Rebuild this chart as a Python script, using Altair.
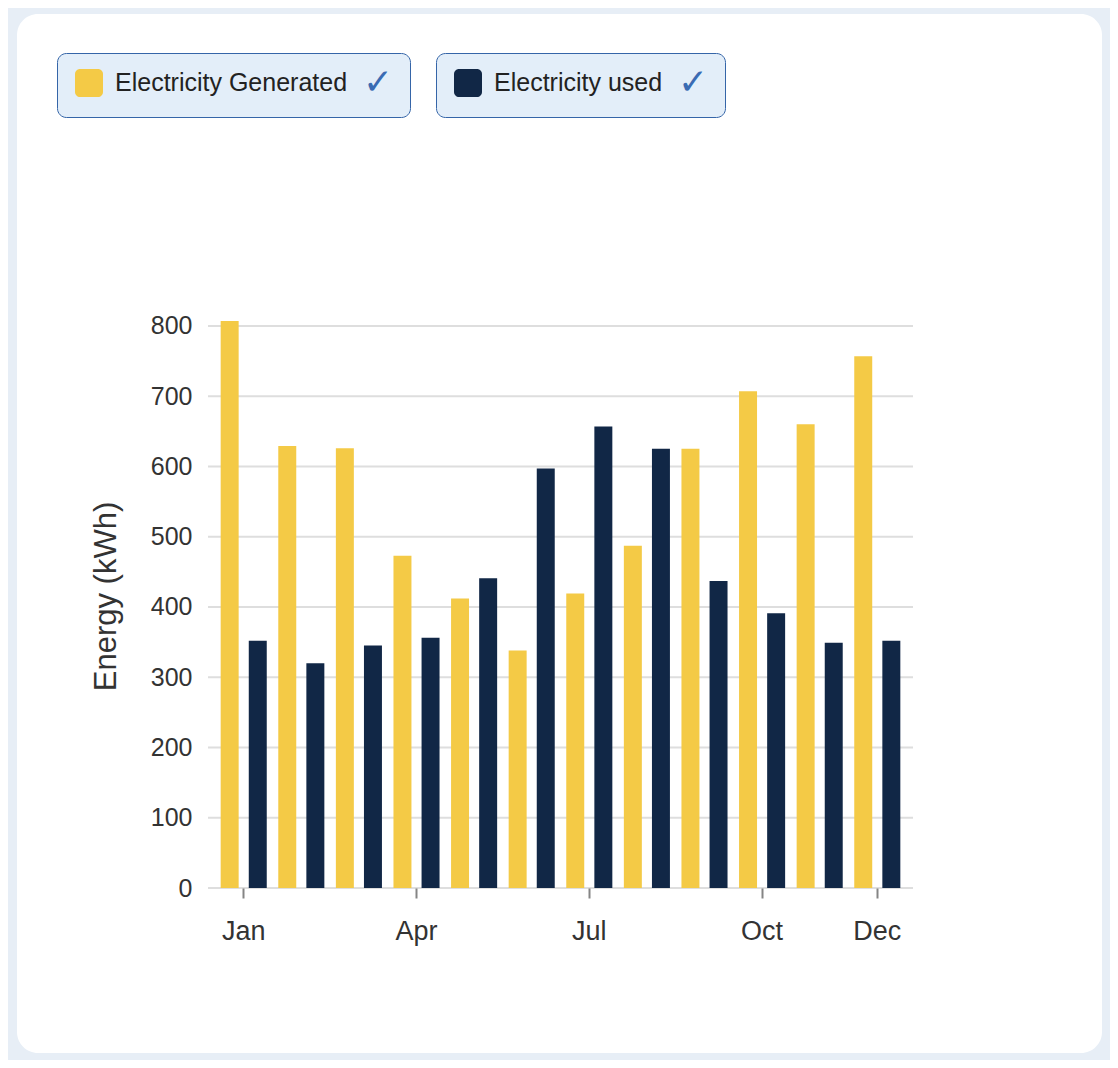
import altair as alt
import pandas as pd

months = ["Jan", "Feb", "Mar", "Apr", "May", "Jun", "Jul", "Aug", "Sep", "Oct", "Nov", "Dec"]
generated = [807, 629, 626, 473, 412, 338, 419, 487, 625, 707, 660, 757]
used = [352, 320, 345, 356, 441, 597, 657, 625, 437, 391, 349, 352]
series_names = ["Electricity Generated", "Electricity used"]
series_colors = ["#f4ca46", "#112746"]
tick_months = ["Jan", "Apr", "Jul", "Oct", "Dec"]
y_ticks = [0, 100, 200, 300, 400, 500, 600, 700, 800]

rows = []
for m, g, u in zip(months, generated, used):
    rows.append({"month": m, "series": series_names[0], "value": g})
    rows.append({"month": m, "series": series_names[1], "value": u})
df = pd.DataFrame(rows)
grid_df = pd.DataFrame({"value": y_ticks})
card_df = pd.DataFrame({"card": [0]})

FONT = "Liberation Sans"
W, H = 705, 567

x_enc = alt.X(
    "month:O",
    sort=months,
    scale=alt.Scale(paddingInner=0.2, paddingOuter=0.22),
    axis=alt.Axis(
        values=tick_months, title=None, labelAngle=0, domain=False,
        ticks=True, tickSize=10, tickWidth=2, tickColor="#858585",
        labelFont=FONT, labelFontSize=27, labelColor="#333333",
        labelPadding=20, zindex=1,
    ),
)
y_axis = alt.Axis(
    values=y_ticks, grid=False, ticks=False, domain=False,
    labelFont=FONT, labelFontSize=25, labelColor="#333333", labelPadding=16,
    title="Energy (kWh)", titleFont=FONT, titleFontSize=31,
    titleFontWeight="normal", titleColor="#333333", titlePadding=28,
    titleY=275, zindex=1,
)
y_scale = alt.Scale(nice=False, zero=True)
xo_enc = alt.XOffset("series:N", scale=alt.Scale(domain=series_names, paddingInner=0.36))

rounded_sq = ("M-0.64,-1 H0.64 A0.36,0.36 0 0 1 1,-0.64 V0.64 A0.36,0.36 0 0 1 0.64,1 "
              "H-0.64 A0.36,0.36 0 0 1 -1,0.64 V-0.64 A0.36,0.36 0 0 1 -0.64,-1 Z")


def make_legend(lx):
    return alt.Legend(
        title="✓", orient="none", legendX=lx, legendY=-268,
        titleOrient="right", titleFont="DejaVu Sans", titleFontSize=36,
        titleFontWeight="normal", titleColor="#3a6bb3", titlePadding=16,
        titleBaseline="middle",
        labelFont=FONT, labelFontSize=25, labelColor="#222222", labelLimit=500,
        labelOffset=12, symbolType=rounded_sq, symbolSize=784, symbolStrokeWidth=0,
        symbolOffset=2,
        padding=16, fillColor="#e3eef9", strokeColor="#3565a8",
        cornerRadius=9, zindex=1,
    )


card = alt.Chart(card_df).mark_rect(fill="white", cornerRadius=21).encode(
    x=alt.value(-191), x2=alt.value(894), y=alt.value(-307), y2=alt.value(732)
)

grid = alt.Chart(grid_df).mark_rule(color="#dedede", strokeWidth=2).encode(
    y=alt.Y("value:Q", scale=y_scale, axis=y_axis),
    x=alt.value(0), x2=alt.value(W),
)

bars_gen = alt.Chart(df).transform_filter(
    alt.datum.series == series_names[0]
).mark_bar().encode(
    x=x_enc, xOffset=xo_enc,
    y=alt.Y("value:Q", scale=y_scale, axis=y_axis),
    color=alt.Color("series:N",
                    scale=alt.Scale(domain=[series_names[0]], range=[series_colors[0]]),
                    legend=make_legend(-151)),
)

bars_used = alt.Chart(df).transform_filter(
    alt.datum.series == series_names[1]
).mark_bar().encode(
    x=x_enc, xOffset=xo_enc,
    y=alt.Y("value:Q", scale=y_scale, axis=y_axis),
    color=alt.Color("series:N",
                    scale=alt.Scale(domain=[series_names[1]], range=[series_colors[1]]),
                    legend=make_legend(228)),
)

chart = alt.layer(card, grid, bars_gen, bars_used).resolve_scale(
    color="independent"
).properties(
    width=W, height=H,
    autosize=alt.AutoSizeParams(type="none"),
    padding={"left": 200, "top": 313, "right": 197, "bottom": 172},
    background="#e7eef6",
).configure_view(stroke=None)

chart.save("out.html", embed_options={"renderer": "svg", "actions": False})
